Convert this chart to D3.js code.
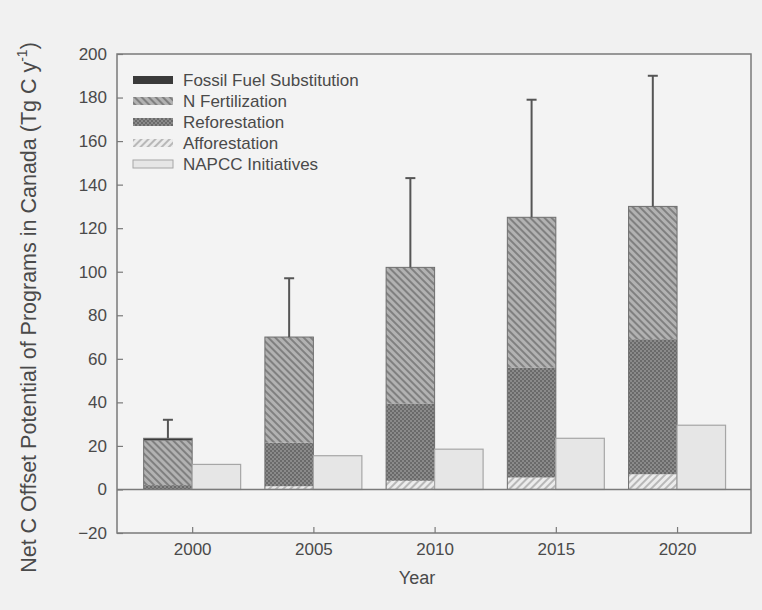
<!DOCTYPE html>
<html>
<head>
<meta charset="utf-8">
<script src="https://cdn.jsdelivr.net/npm/d3@7"></script>
<style>
  html, body { margin: 0; padding: 0; background: #f1f1f1; }
  svg { display: block; }
  text { font-family: "Liberation Sans", Arial, sans-serif; fill: #4a4a4a; }
</style>
</head>
<body>
<svg id="chart" width="762" height="610"></svg>
<script>
// Net C offset potential of programs in Canada (Tg C per year)
const years = [2000, 2005, 2010, 2015, 2020];
const afforestation = [0, 1.5, 4, 5.5, 7];
const reforestation = [2, 20, 35.5, 50.5, 62];
const nFertilization = [20.5, 48.5, 62.5, 69, 61];
const fossilFuel = [1, 0, 0, 0, 0];
const errorTop = [32, 97, 143, 179, 190];
const napcc = [11.5, 15.5, 18.5, 23.5, 29.5];
const yTicks = [-20, 0, 20, 40, 60, 80, 100, 120, 140, 160, 180, 200];

const seriesKeys = ["afforestation", "reforestation", "nFertilization", "fossilFuel"];
const seriesValues = { afforestation, reforestation, nFertilization, fossilFuel };
const legendItems = [
  { key: "fossilFuel", label: "Fossil Fuel Substitution" },
  { key: "nFertilization", label: "N Fertilization" },
  { key: "reforestation", label: "Reforestation" },
  { key: "afforestation", label: "Afforestation" },
  { key: "napcc", label: "NAPCC Initiatives" }
];

const svg = d3.select("#chart");
const plotLeft = 117, plotRight = 751, plotTop = 54, plotBottom = 533;

const x = d3.scaleLinear().domain([1996.9, 2023.05]).range([plotLeft, plotRight]);
const y = d3.scaleLinear().domain([-20, 200]).range([plotBottom, plotTop]);
const barYears = 2;

// fill patterns
const defs = svg.append("defs");
const pN = defs.append("pattern").attr("id", "pN").attr("patternUnits", "userSpaceOnUse")
  .attr("width", 5).attr("height", 5).attr("patternTransform", "rotate(-45)");
pN.append("rect").attr("width", 5).attr("height", 5).attr("fill", "#b2b2b2");
pN.append("rect").attr("width", 2).attr("height", 5).attr("fill", "#808080");

const pR = defs.append("pattern").attr("id", "pR").attr("patternUnits", "userSpaceOnUse")
  .attr("width", 4).attr("height", 4);
pR.append("rect").attr("width", 4).attr("height", 4).attr("fill", "#8a8a8a");
pR.append("rect").attr("width", 2).attr("height", 2).attr("fill", "#6a6a6a");
pR.append("rect").attr("x", 2).attr("y", 2).attr("width", 2).attr("height", 2).attr("fill", "#6a6a6a");

const pA = defs.append("pattern").attr("id", "pA").attr("patternUnits", "userSpaceOnUse")
  .attr("width", 5).attr("height", 5).attr("patternTransform", "rotate(45)");
pA.append("rect").attr("width", 5).attr("height", 5).attr("fill", "#ececec");
pA.append("rect").attr("width", 2).attr("height", 5).attr("fill", "#b8b8b8");

const fills = {
  fossilFuel: "#3a3a3a",
  nFertilization: "url(#pN)",
  reforestation: "url(#pR)",
  afforestation: "url(#pA)",
  napcc: "#e6e6e6"
};

// frame
svg.append("rect").attr("x", plotLeft).attr("y", plotTop)
  .attr("width", plotRight - plotLeft).attr("height", plotBottom - plotTop)
  .attr("fill", "#f3f3f3").attr("stroke", "#7a7a7a").attr("stroke-width", 1.5);

// y axis (ticks inside)
const yAxis = d3.axisLeft(y).tickValues(yTicks).tickSize(-6).tickPadding(10);
const gy = svg.append("g").attr("transform", `translate(${plotLeft},0)`).call(yAxis);
gy.select(".domain").remove();
gy.selectAll(".tick line").attr("stroke", "#7a7a7a").attr("stroke-width", 1.2);
gy.selectAll(".tick text").attr("font-size", 17).attr("fill", "#4a4a4a")
  .attr("font-family", "Liberation Sans, Arial, sans-serif");

// x axis (ticks inside)
const xAxis = d3.axisBottom(x).tickValues(years).tickFormat(d3.format("d")).tickSize(-6).tickPadding(10);
const gx = svg.append("g").attr("transform", `translate(0,${plotBottom})`).call(xAxis);
gx.select(".domain").remove();
gx.selectAll(".tick line").attr("stroke", "#7a7a7a").attr("stroke-width", 1.2);
gx.selectAll(".tick text").attr("font-size", 17).attr("fill", "#4a4a4a")
  .attr("font-family", "Liberation Sans, Arial, sans-serif");

// stacked bars
const rows = years.map((yr, i) => {
  const r = { year: yr };
  seriesKeys.forEach(k => r[k] = seriesValues[k][i]);
  return r;
});
const stack = d3.stack().keys(seriesKeys).offset(d3.stackOffsetDiverging)(rows);
const totals = rows.map(r => seriesKeys.reduce((s, k) => s + r[k], 0));

stack.forEach(layer => {
  svg.append("g").selectAll("rect").data(layer).join("rect")
    .attr("x", d => x(d.data.year - barYears))
    .attr("width", d => x(d.data.year) - x(d.data.year - barYears))
    .attr("y", d => y(Math.max(d[0], d[1])))
    .attr("height", d => Math.abs(y(d[0]) - y(d[1])))
    .attr("fill", fills[layer.key]);
});

// outline of each stacked bar
svg.append("g").selectAll("rect").data(rows).join("rect")
  .attr("x", d => x(d.year - barYears))
  .attr("width", d => x(d.year) - x(d.year - barYears))
  .attr("y", (d, i) => y(totals[i]))
  .attr("height", (d, i) => y(0) - y(totals[i]))
  .attr("fill", "none").attr("stroke", "#6e6e6e").attr("stroke-width", 1);

// NAPCC bars
svg.append("g").selectAll("rect").data(napcc).join("rect")
  .attr("x", (d, i) => x(years[i]))
  .attr("width", (d, i) => x(years[i] + barYears) - x(years[i]))
  .attr("y", d => y(d))
  .attr("height", d => y(0) - y(d))
  .attr("fill", fills.napcc).attr("stroke", "#a6a6a6").attr("stroke-width", 1.2);

// error bars (upper)
const errG = svg.append("g").attr("stroke", "#555").attr("stroke-width", 2);
years.forEach((yr, i) => {
  const cx = x(yr - barYears / 2);
  errG.append("line").attr("x1", cx).attr("x2", cx).attr("y1", y(totals[i])).attr("y2", y(errorTop[i]));
  errG.append("line").attr("x1", cx - 5).attr("x2", cx + 5).attr("y1", y(errorTop[i])).attr("y2", y(errorTop[i]));
});

// zero line
svg.append("line").attr("x1", plotLeft).attr("x2", plotRight).attr("y1", y(0)).attr("y2", y(0))
  .attr("stroke", "#7a7a7a").attr("stroke-width", 1.5);

// legend
const lg = svg.append("g").attr("transform", "translate(133,76)");
legendItems.forEach((it, i) => {
  const row = lg.append("g").attr("transform", `translate(0,${i * 21})`);
  row.append("rect").attr("width", 40).attr("height", 8)
    .attr("fill", fills[it.key])
    .attr("stroke", it.key === "napcc" ? "#a6a6a6" : "none").attr("stroke-width", 1);
  row.append("text").attr("x", 50).attr("y", 10).attr("font-size", 17).text(it.label);
});

// axis titles
svg.append("text").attr("x", 417).attr("y", 584).attr("text-anchor", "middle")
  .attr("font-size", 18).text("Year");

const yl = svg.append("text").attr("transform", `translate(36,${(plotTop + plotBottom) / 2 + 14}) rotate(-90)`)
  .attr("text-anchor", "middle").attr("font-size", 21.5);
yl.append("tspan").text("Net C Offset Potential of Programs in Canada (Tg C y");
yl.append("tspan").attr("font-size", 14).attr("dy", -9).text("-1");
yl.append("tspan").attr("dy", 9).text(")");
</script>
</body>
</html>
